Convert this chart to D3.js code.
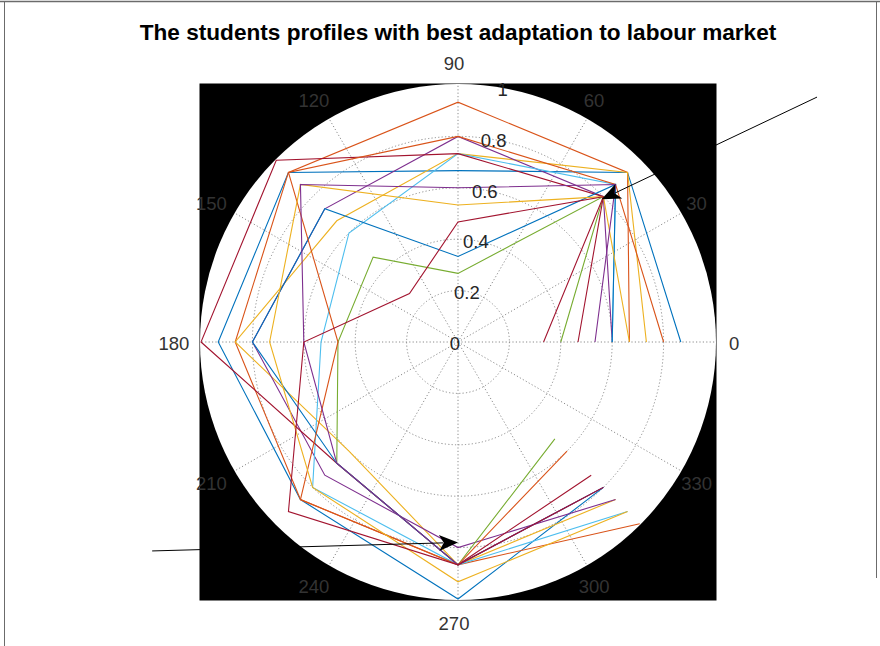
<!DOCTYPE html>
<html><head><meta charset="utf-8">
<script src="https://cdn.jsdelivr.net/npm/d3@7"></script>
<style>body{margin:0;background:#fff}svg{display:block}</style>
</head><body>
<svg id="chart" width="880" height="646"></svg>
<script>
// ---- data ----
const title = "The students profiles with best adaptation to labour market";
const angles = [0, 45, 90, 135, 180, 225, 270, 315];          // degrees of the vertices
const angleTicks = [0, 30, 60, 90, 120, 150, 180, 210, 240, 270, 300, 330];
const radialTicks = [0, 0.2, 0.4, 0.6, 0.8, 1];
const seriesColors = ["#0072BD","#D95319","#EDB120","#7E2F8E","#77AC30","#4DBEEE","#A2142F",
                      "#0072BD","#D95319","#EDB120","#7E2F8E","#A2142F"];
const s1  = [0.867,0.933,0.667,0.933,0.933,0.867,1.000,0.800];
const s2  = [0.667,0.933,0.933,0.933,0.867,0.867,0.867,1.000];
const s3  = [0.733,0.933,0.733,0.667,0.867,0.600,0.867,0.867];
const s4  = [0.600,0.800,0.800,0.733,0.800,0.733,0.800,0.867];
const s5  = [0.400,0.800,0.267,0.467,0.467,0.667,0.867,0.533];
const s6  = [0.600,0.867,0.733,0.600,0.533,0.800,0.867,0.933];
const s7  = [0.467,0.800,0.733,1.000,1.000,0.667,0.867,0.733];
const s8  = [0.600,0.867,0.333,0.733,0.800,0.667,0.867,0.800];
const s9  = [0.800,0.867,0.800,0.933,0.467,0.867,0.867,0.600];
const s10 = [0.667,0.800,0.533,0.867,0.733,0.800,0.933,0.933];
const s11 = [0.533,0.867,0.600,0.867,0.600,0.667,0.867,0.800];
const s12 = [0.333,0.800,0.467,0.267,0.600,0.933,0.867,0.800];
const seriesValues = [s1,s2,s3,s4,s5,s6,s7,s8,s9,s10,s11,s12];
// annotation arrows: tail (x,y) and head (x,y) in data units (r = 1 at the rim)
const arrowTails = [[1.397, 0.953], [-1.19, -0.813]];
const arrowHeads = [[0.559, 0.555], [0.0, -0.78]];

// ---- layout ----
const svg = d3.select("#chart");
const cx = 458, cy = 342;
const r = d3.scaleLinear().domain([0, 1]).range([0, 257]);
const R = r(1);
const rad = a => a * Math.PI / 180;
const px = (v, a) => cx + r(v) * Math.cos(rad(a));
const py = (v, a) => cy - r(v) * Math.sin(rad(a));
const xs = d3.scaleLinear().domain([-1, 1]).range([cx - R, cx + R]);
const ys = d3.scaleLinear().domain([-1, 1]).range([cy + R, cy - R]);

// page frame lines
svg.append("line").attr("x1",0).attr("x2",880).attr("y1",1.5).attr("y2",1.5).attr("stroke","#6b6b6b").attr("stroke-width",1.5);
svg.append("line").attr("x1",4.5).attr("x2",4.5).attr("y1",2).attr("y2",646).attr("stroke","#6b6b6b").attr("stroke-width",1);
svg.append("line").attr("x1",876.5).attr("x2",876.5).attr("y1",2).attr("y2",578).attr("stroke","#6b6b6b").attr("stroke-width",1);

// title
svg.append("text").attr("x", cx).attr("y", 40).attr("text-anchor","middle")
  .attr("font-family","'Liberation Sans', Arial, sans-serif").attr("font-weight","bold")
  .attr("font-size", 22.6).attr("fill","#000").text(title);

// black square + white disc
svg.append("rect").attr("x", cx - R - 1.5).attr("y", cy - R - 1.5)
  .attr("width", 2 * R + 3).attr("height", 2 * R + 3).attr("fill", "#000");
svg.append("circle").attr("cx", cx).attr("cy", cy).attr("r", R + 1).attr("fill", "#fff");

// grid
const grid = svg.append("g").attr("fill","none").attr("stroke","#7f7f7f")
  .attr("stroke-width",0.9).attr("stroke-dasharray","1.2,2.2");
radialTicks.filter(t => t > 0 && t < 1).forEach(t =>
  grid.append("circle").attr("cx",cx).attr("cy",cy).attr("r",r(t)));
angleTicks.forEach(a =>
  grid.append("line").attr("x1",cx).attr("y1",cy).attr("x2",px(1,a)).attr("y2",py(1,a)));

// series
const line = d3.lineRadial()
  .angle((d, i) => rad(90 - angles[i]))
  .radius(d => r(d));
const lg = svg.append("g").attr("transform", `translate(${cx},${cy})`);
seriesValues.forEach((vals, k) => {
  lg.append("path").attr("d", line(vals)).attr("fill","none")
    .attr("stroke", seriesColors[k]).attr("stroke-width", 1.1).attr("stroke-linejoin","miter");
});

// radial tick labels
const font = "'Liberation Sans', Arial, sans-serif";
svg.append("g").selectAll("text").data(radialTicks).join("text")
  .attr("x", d => px(d, 80) + (d === 0 ? -3 : 0))
  .attr("y", d => py(d, 80) + 1)
  .attr("text-anchor","middle").attr("dominant-baseline","central")
  .attr("font-family", font).attr("font-size", 18.5).attr("fill","#262626")
  .text(d => d3.format("~g")(d));

// angle labels
svg.append("g").selectAll("text").data(angleTicks).join("text")
  .attr("x", d => px(1.09, d) - 4)
  .attr("y", d => py(1.09, d) + 1.5)
  .attr("text-anchor","middle").attr("dominant-baseline","central")
  .attr("font-family", font).attr("font-size", 18.5).attr("fill","#333")
  .text(d => d);

// arrows
arrowTails.forEach((t, i) => {
  const h = arrowHeads[i];
  const x1 = xs(t[0]), y1 = ys(t[1]), x2 = xs(h[0]), y2 = ys(h[1]);
  const ang = Math.atan2(y2 - y1, x2 - x1);
  const L = 19, W = 8;
  const bx = x2 - L * Math.cos(ang), by = y2 - L * Math.sin(ang);
  const nx = -Math.sin(ang), ny = Math.cos(ang);
  svg.append("line").attr("x1", x1).attr("y1", y1).attr("x2", bx + 4*Math.cos(ang)).attr("y2", by + 4*Math.sin(ang))
    .attr("stroke","#000").attr("stroke-width",1);
  const mx = x2 - 0.75 * L * Math.cos(ang), my = y2 - 0.75 * L * Math.sin(ang);
  svg.append("path").attr("d", `M${x2},${y2}L${bx + W*nx},${by + W*ny}L${mx},${my}L${bx - W*nx},${by - W*ny}Z`)
    .attr("fill","#000");
});
</script>
</body></html>
